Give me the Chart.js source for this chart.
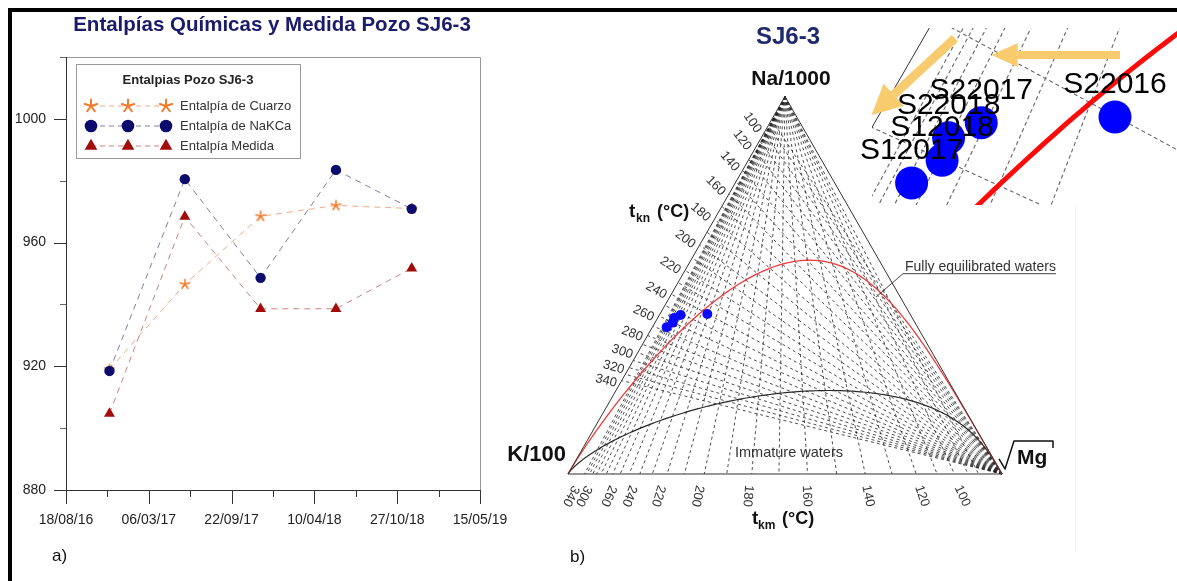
<!DOCTYPE html>
<html>
<head>
<meta charset="utf-8">
<title>Entalpías y diagrama de Giggenbach – Pozo SJ6-3</title>
<script src="https://cdn.jsdelivr.net/npm/chart.js@4.4.1/dist/chart.umd.min.js"></script>
<style>
  html, body { margin: 0; padding: 0; background: #fff; }
  #page { position: relative; width: 1177px; height: 581px; overflow: hidden; background: #fff;
          font-family: "Liberation Sans", Arial, sans-serif; }
  canvas { position: absolute; }
  #cLeft { left: 0; top: 0; }
  #cTern { left: 480px; top: 0; }
  #cZoom { left: 858px; top: 20px; }
  .frameTop { position: absolute; left: 8px; top: 8px; width: 1169px; height: 4px; background: #000; }
  .frameLeft { position: absolute; left: 8px; top: 8px; width: 4px; height: 573px; background: #000; }
  .seam { position: absolute; left: 1075px; top: 205px; width: 1px; height: 347px; background: #f2f2f2; }
  .tag { position: absolute; font-size: 17px; line-height: 22px; color: #111; }
</style>
</head>
<body>
<div id="page">
  <canvas id="cLeft" width="540" height="581"></canvas>
  <canvas id="cTern" width="697" height="581"></canvas>
  <div class="seam"></div>
  <canvas id="cZoom" width="319" height="188"></canvas>
  <div class="frameTop"></div>
  <div class="frameLeft"></div>
  <div class="tag" style="left:52px; top:545px;">a)</div>
  <div class="tag" style="left:570px; top:546px;">b)</div>
</div>

<script>
// ---------------- Panel a): enthalpies vs. sampling date ----------------
const sampleDates   = ['2016-12-01', '2017-06-01', '2017-12-01', '2018-06-01', '2018-12-01'];
const cuarzoValues  = [919.0, 946.5, 968.5, 972.0, 971.0];
const nakcaValues   = [918.5, 980.5, 948.6, 983.5, 970.9];
const medidaValues  = [904.7, 968.4, 938.6, 938.6, 951.7];
const seriesNames   = ['Entalpía de Cuarzo', 'Entalpía de NaKCa', 'Entalpía Medida'];
const dateTickLabels = ['18/08/16', '06/03/17', '22/09/17', '10/04/18', '27/10/18', '15/05/19'];
const enthalpyTicks  = [880, 900, 920, 940, 960, 980, 1000, 1020];
const enthalpyLabels = [880, 920, 960, 1000];

// ---------------- Panel b): Na-K-Mg (Giggenbach) diagram ----------------
const sampleNames = ['S22016', 'S12017', 'S22017', 'S12018', 'S22018'];
const naPct = [42.4, 38.9, 42.1, 40.1, 41.3];   // Na/1000, % of total
const kPct  = [46.7, 57.8, 53.0, 55.8, 54.9];   // K/100,  % of total
const mgPct = [10.9,  3.3,  4.9,  4.1,  3.8];   // sqrt(Mg), % of total
const tknGrid   = [80, 90, 100, 110, 120, 130, 140, 150, 160, 170, 180, 190, 200, 210, 220, 230, 240, 250, 260, 270, 280, 290, 300, 310, 320, 330, 340];
const tkmGrid   = [80, 90, 100, 110, 120, 130, 140, 150, 160, 170, 180, 190, 200, 210, 220, 230, 240, 250, 260, 270, 280, 290, 300, 310, 320, 330, 340];
const tknLabels = [100, 120, 140, 160, 180, 200, 220, 240, 260, 280, 300, 320, 340];
const tkmLabels = [100, 120, 140, 160, 180, 200, 220, 240, 260, 300, 340];
const tknGridZoom = [200, 220, 240, 260, 280, 300, 320, 340, 360, 380, 400];
const tkmGridZoom = [240, 260, 280, 300, 320, 340, 360];

const FONT = '"Liberation Sans", Arial, sans-serif';

// ---------- helpers for panel a) ----------
const dayOf = s => { const [Y, M, D] = s.split('-').map(Number); return Date.UTC(Y, M - 1, D) / 864e5; };
const dayOfDMY = s => { const [D, M, Y] = s.split('/').map(Number); return Date.UTC(2000 + Y, M - 1, D) / 864e5; };
const xTicks = dateTickLabels.map(dayOfDMY);

function drawAsterisk(g, cx, cy, r, color, lw) {
  g.save();
  g.strokeStyle = color; g.lineWidth = lw; g.lineCap = 'round';
  for (let k = 0; k < 5; k++) {
    const a = -Math.PI / 2 + k * 2 * Math.PI / 5;
    g.beginPath(); g.moveTo(cx, cy); g.lineTo(cx + r * Math.cos(a), cy + r * Math.sin(a)); g.stroke();
  }
  g.restore();
}
function asteriskImage(r, color, lw) {
  const c = document.createElement('canvas');
  const s = Math.ceil(2 * r + 4); c.width = s; c.height = s;
  drawAsterisk(c.getContext('2d'), s / 2, s / 2, r, color, lw);
  return c;
}

const COL = {
  cuarzo: '#f47a2a', cuarzoLine: 'rgba(240,160,120,0.9)',
  nakca: '#0b0b6e',  nakcaLine: 'rgba(95,95,140,0.8)',
  medida: '#a30a0a', medidaLine: 'rgba(190,110,110,0.85)'
};
const starPoint = asteriskImage(5, COL.cuarzo, 1.6);
const toXY = vals => sampleDates.map((d, i) => ({ x: dayOf(d), y: vals[i] }));

const leftDecor = {
  id: 'leftDecor',
  afterDraw(chart) {
    const { ctx, chartArea: a, scales: { x, y } } = chart;
    ctx.save();
    ctx.lineWidth = 1;
    // plot frame: light top/right, dark axes
    ctx.strokeStyle = '#9a9a9a';
    ctx.beginPath();
    ctx.moveTo(a.left, a.top + 0.5); ctx.lineTo(a.right + 0.5, a.top + 0.5); ctx.lineTo(a.right + 0.5, a.bottom);
    ctx.stroke();
    ctx.strokeStyle = '#333';
    ctx.beginPath();
    ctx.moveTo(a.left + 0.5, a.top); ctx.lineTo(a.left + 0.5, a.bottom + 0.5); ctx.lineTo(a.right + 1, a.bottom + 0.5);
    ctx.stroke();
    // y ticks (major / minor)
    enthalpyTicks.forEach(v => {
      const py = Math.round(y.getPixelForValue(v)) + 0.5;
      const major = enthalpyLabels.includes(v);
      ctx.strokeStyle = major ? '#333' : '#666';
      ctx.beginPath(); ctx.moveTo(a.left - (major ? 12 : 6), py); ctx.lineTo(a.left, py); ctx.stroke();
    });
    // x ticks (major / minor)
    ctx.strokeStyle = '#333';
    xTicks.forEach((v, i) => {
      const px = Math.round(x.getPixelForValue(v)) + 0.5;
      ctx.beginPath(); ctx.moveTo(px, a.bottom); ctx.lineTo(px, a.bottom + 14); ctx.stroke();
      if (i < xTicks.length - 1) {
        const pm = Math.round(x.getPixelForValue((v + xTicks[i + 1]) / 2)) + 0.5;
        ctx.beginPath(); ctx.moveTo(pm, a.bottom); ctx.lineTo(pm, a.bottom + 7); ctx.stroke();
      }
    });
    // title
    ctx.fillStyle = '#1b1b6b';
    ctx.font = 'bold 20.5px ' + FONT;
    ctx.textAlign = 'center'; ctx.textBaseline = 'middle';
    ctx.fillText('Entalpías Químicas y Medida Pozo SJ6-3', 272, 25);

    // legend box
    const L = { x: 76, y: 64, w: 224, h: 94 };
    ctx.fillStyle = '#fff';
    ctx.fillRect(L.x, L.y, L.w, L.h);
    ctx.strokeStyle = '#9a9a9a';
    ctx.strokeRect(L.x + 0.5, L.y + 0.5, L.w, L.h);
    ctx.fillStyle = '#222';
    ctx.font = 'bold 13px ' + FONT;
    ctx.fillText('Entalpias Pozo SJ6-3', L.x + 112, L.y + 16);
    const rows = [
      { name: seriesNames[0], line: COL.cuarzoLine, mark: (cx, cy) => drawAsterisk(ctx, cx, cy, 6.5, COL.cuarzo, 2) },
      { name: seriesNames[1], line: COL.nakcaLine,  mark: (cx, cy) => { ctx.fillStyle = COL.nakca; ctx.beginPath(); ctx.arc(cx, cy, 6.3, 0, 2 * Math.PI); ctx.fill(); } },
      { name: seriesNames[2], line: COL.medidaLine, mark: (cx, cy) => { const r = 7.3; ctx.fillStyle = COL.medida; ctx.beginPath(); ctx.moveTo(cx, cy - r); ctx.lineTo(cx + 0.866 * r, cy + 0.5 * r); ctx.lineTo(cx - 0.866 * r, cy + 0.5 * r); ctx.closePath(); ctx.fill(); } }
    ];
    rows.forEach((r, i) => {
      const cy = L.y + 42 + i * 20;
      const xs = [L.x + 15, L.x + 52, L.x + 90];
      ctx.save();
      ctx.strokeStyle = r.line; ctx.lineWidth = 1; ctx.setLineDash([5, 4]);
      ctx.beginPath(); ctx.moveTo(xs[0], cy); ctx.lineTo(xs[2], cy); ctx.stroke();
      ctx.restore();
      xs.forEach(cx => r.mark(cx, cy));
      ctx.fillStyle = '#333';
      ctx.font = '13px ' + FONT;
      ctx.textAlign = 'left'; ctx.textBaseline = 'middle';
      ctx.fillText(r.name, L.x + 104, cy);
      ctx.textAlign = 'center';
    });
    ctx.restore();
  }
};

new Chart(document.getElementById('cLeft'), {
  type: 'line',
  data: {
    datasets: [
      { label: seriesNames[1], data: toXY(nakcaValues), borderColor: COL.nakcaLine, borderWidth: 1, borderDash: [6, 5],
        pointStyle: 'circle', pointRadius: 5.2, pointBackgroundColor: COL.nakca, pointBorderColor: COL.nakca, pointBorderWidth: 0 },
      { label: seriesNames[2], data: toXY(medidaValues), borderColor: COL.medidaLine, borderWidth: 1, borderDash: [6, 5],
        pointStyle: 'triangle', pointRadius: 6.3, pointBackgroundColor: COL.medida, pointBorderColor: COL.medida, pointBorderWidth: 0 },
      { label: seriesNames[0], data: toXY(cuarzoValues), borderColor: COL.cuarzoLine, borderWidth: 1, borderDash: [6, 5],
        pointStyle: starPoint, pointRadius: 5 }
    ]
  },
  options: {
    responsive: false, animation: false, events: [],
    layout: { autoPadding: false, padding: { top: 57, right: 60, left: 0, bottom: 0 } },
    plugins: { legend: { display: false }, tooltip: { enabled: false }, title: { display: false } },
    scales: {
      x: {
        type: 'linear', min: xTicks[0], max: xTicks[xTicks.length - 1],
        afterBuildTicks: s => { s.ticks = xTicks.map(v => ({ value: v })); },
        afterFit: s => { s.height = 91; },
        grid: { display: false, drawTicks: false }, border: { display: false },
        ticks: { padding: 22, autoSkip: false, maxRotation: 0, color: '#222', font: { family: FONT, size: 14 },
                 callback: (v, i) => dateTickLabels[i] }
      },
      y: {
        type: 'linear', min: 880, max: 1020,
        afterBuildTicks: s => { s.ticks = enthalpyTicks.map(v => ({ value: v })); },
        afterFit: s => { s.width = 66; },
        grid: { display: false, drawTicks: false }, border: { display: false },
        ticks: { padding: 20, color: '#222', font: { family: FONT, size: 14 },
                 callback: v => enthalpyLabels.includes(v) ? String(v) : '' }
      }
    }
  },
  plugins: [leftDecor]
});

// ---------- Giggenbach (1988) geometry ----------
const H = 86.6025;                          // height of a 100-wide equilateral triangle
const MI_COEF = 1390 / 4410;                // weight of log(K²/Mg) in the maturity index
const FULL_MI = 14 * MI_COEF - 1.75;        // t_kn = t_km  → fully equilibrated line
const IMMATURE_MI = 2.0;                    // immature / partially equilibrated boundary
function tern(na, k, mg) { const s = na + k + mg; return { x: (100 * mg + 50 * na) / s, y: H * na / s }; }
const V_NA = tern(1, 0, 0), V_K = tern(0, 1, 0), V_MG = tern(0, 0, 1);
function tknEdge(T) { const r = Math.pow(10, 1390 / (T + 273.15) - 1.75); return tern(r / 1000, 1 / 100, 0); }
function tkmBase(T) { const c = Math.pow(10, 14 - 4410 / (T + 273.15)); return tern(0, 1 / 100, 1 / Math.sqrt(c)); }
function maturityCurve(mi) {
  const pts = [];
  for (let i = 0; i <= 1000; i++) {
    const l1 = -3 + i * 0.01;
    const l2 = (mi - l1) / MI_COEF;
    pts.push(tern(Math.pow(10, l1) / 1000, 0.01, Math.pow(10, -l2 / 2)));
  }
  return pts;
}
const samplePoints = sampleNames.map((n, i) => tern(naPct[i], kPct[i], mgPct[i]));

function mapper(chart) {
  const X = chart.scales.x, Y = chart.scales.y;
  return p => [X.getPixelForValue(p.x), Y.getPixelForValue(p.y)];
}
function seg(ctx, a, b) { ctx.beginPath(); ctx.moveTo(a[0], a[1]); ctx.lineTo(b[0], b[1]); ctx.stroke(); }
function poly(ctx, pts, color, w) {
  ctx.strokeStyle = color; ctx.lineWidth = w; ctx.lineJoin = 'round';
  ctx.beginPath(); pts.forEach((p, i) => i ? ctx.lineTo(p[0], p[1]) : ctx.moveTo(p[0], p[1])); ctx.stroke();
}
function unit(a, b) { const dx = b[0] - a[0], dy = b[1] - a[1], l = Math.hypot(dx, dy); return [dx / l, dy / l]; }
function rotatedText(ctx, txt, x, y, ang) {
  ctx.save(); ctx.translate(x, y); ctx.rotate(ang); ctx.fillText(txt, 0, 0); ctx.restore();
}

const TERN_LEFT = 480;   // page x of the diagram canvas
const giggenbachMain = {
  id: 'giggenbachMain',
  beforeDatasetsDraw(chart) {
    const { ctx } = chart;
    const P = mapper(chart);
    const cx = x => x - TERN_LEFT;
    const pNa = P(V_NA), pK = P(V_K), pMg = P(V_MG);
    ctx.save();
    // temperature grid
    ctx.setLineDash([3, 3]); ctx.strokeStyle = '#222'; ctx.lineWidth = 0.8;
    tknGrid.forEach(T => seg(ctx, pMg, P(tknEdge(T))));
    tkmGrid.forEach(T => seg(ctx, pNa, P(tkmBase(T))));
    ctx.setLineDash([]);
    // maturity curves
    poly(ctx, maturityCurve(IMMATURE_MI).map(P), '#2b2b2b', 1.2);
    poly(ctx, maturityCurve(FULL_MI).map(P), '#ee3b3b', 1.3);
    // triangle
    ctx.strokeStyle = '#333'; ctx.lineWidth = 1;
    ctx.beginPath(); ctx.moveTo(pNa[0], pNa[1]); ctx.lineTo(pK[0], pK[1]); ctx.lineTo(pMg[0], pMg[1]); ctx.closePath(); ctx.stroke();

    // temperature labels
    ctx.fillStyle = '#333'; ctx.font = '13px ' + FONT; ctx.textAlign = 'center'; ctx.textBaseline = 'middle';
    tknLabels.forEach(T => {
      const e = P(tknEdge(T)); const d = unit(e, pMg);
      const lx = e[0] - d[0] * 15 - d[1] * 4, ly = e[1] - d[1] * 15 + d[0] * 4;
      rotatedText(ctx, String(T), lx, ly, Math.atan2(d[1], d[0]));
    });
    tkmLabels.forEach(T => {
      const b = P(tkmBase(T)); const d = unit(pNa, b);
      const L = 22 / d[1];
      rotatedText(ctx, String(T), b[0] + d[0] * L - 2, b[1] + 22, Math.atan2(d[1], d[0]));
    });

    // axis captions
    ctx.fillStyle = '#111'; ctx.textBaseline = 'alphabetic'; ctx.textAlign = 'left';
    ctx.font = 'bold 19px ' + FONT; ctx.fillText('t', cx(629), 217);
    ctx.font = 'bold 12px ' + FONT; ctx.fillText('kn', cx(636), 222);
    ctx.font = 'bold 18px ' + FONT; ctx.fillText('(°C)', cx(657), 217);
    ctx.font = 'bold 19px ' + FONT; ctx.fillText('t', cx(752), 524);
    ctx.font = 'bold 12px ' + FONT; ctx.fillText('km', cx(758), 529);
    ctx.font = 'bold 18px ' + FONT; ctx.fillText('(°C)', cx(782), 524);

    // vertex labels
    ctx.textAlign = 'center'; ctx.textBaseline = 'middle';
    ctx.fillStyle = '#1f2a6e'; ctx.font = 'bold 24px ' + FONT;
    ctx.fillText('SJ6-3', pNa[0] + 3, 37);
    ctx.fillStyle = '#111'; ctx.font = 'bold 21px ' + FONT;
    ctx.fillText('Na/1000', pNa[0] + 6, pNa[1] - 17);
    ctx.textAlign = 'right';
    ctx.font = 'bold 22px ' + FONT;
    ctx.fillText('K/100', pK[0] - 2, pK[1] - 19);
    ctx.textAlign = 'left';
    ctx.font = 'bold 21px ' + FONT;
    ctx.fillText('Mg', pMg[0] + 15, pMg[1] - 16);
    ctx.strokeStyle = '#111'; ctx.lineWidth = 1.5;
    ctx.beginPath();
    ctx.moveTo(pMg[0] - 3, pMg[1] - 15); ctx.lineTo(pMg[0] + 3, pMg[1] - 5); ctx.lineTo(pMg[0] + 12, pMg[1] - 33);
    ctx.lineTo(pMg[0] + 51, pMg[1] - 33); ctx.lineTo(pMg[0] + 51, pMg[1] - 26);
    ctx.stroke();

    // region captions
    ctx.fillStyle = '#333'; ctx.font = '14px ' + FONT; ctx.textAlign = 'left'; ctx.textBaseline = 'middle';
    const fe = P({ x: 77.65, y: 47.56 }), feEnd = P({ x: 70.97, y: 40.6 });
    ctx.fillText('Fully equilibrated waters', fe[0], fe[1]);
    const fw = ctx.measureText('Fully equilibrated waters').width;
    ctx.strokeStyle = '#444'; ctx.lineWidth = 1;
    ctx.beginPath(); ctx.moveTo(fe[0] + fw, fe[1] + 7); ctx.lineTo(fe[0] - 2, fe[1] + 7); ctx.lineTo(feEnd[0], feEnd[1]); ctx.stroke();
    ctx.textAlign = 'center';
    const im = P({ x: 50.92, y: 4.89 });
    ctx.font = '14.5px ' + FONT;
    ctx.fillText('Immature waters', im[0], im[1]);
    ctx.restore();
  }
};

new Chart(document.getElementById('cTern'), {
  type: 'scatter',
  data: { datasets: [{ data: samplePoints, pointRadius: 5, pointBackgroundColor: '#0a0aff', pointBorderWidth: 0 }] },
  options: {
    responsive: false, animation: false, events: [],
    layout: { autoPadding: false, padding: 0 },
    plugins: { legend: { display: false }, tooltip: { enabled: false } },
    scales: {
      x: { type: 'linear', display: false, min: -20.276, max: 140.323 },
      y: { type: 'linear', display: false, min: -24.55, max: 108.74 }
    }
  },
  plugins: [giggenbachMain]
});

// ---------- enlarged view around the samples ----------
const trendArrows = [
  [{ x: 32.33, y: 39.57 }, { x: 26.43, y: 39.57 }],
  [{ x: 24.74, y: 40.34 }, { x: 20.91, y: 36.81 }]
];
function drawArrow(ctx, a, b, shaft, headLen, headHalf, color) {
  const d = unit(a, b), n = [-d[1], d[0]];
  const base = [b[0] - d[0] * headLen, b[1] - d[1] * headLen];
  ctx.strokeStyle = color; ctx.fillStyle = color; ctx.lineWidth = shaft; ctx.lineCap = 'butt';
  ctx.beginPath(); ctx.moveTo(a[0], a[1]); ctx.lineTo(base[0], base[1]); ctx.stroke();
  ctx.beginPath();
  ctx.moveTo(b[0], b[1]);
  ctx.lineTo(base[0] + n[0] * headHalf, base[1] + n[1] * headHalf);
  ctx.lineTo(base[0] - n[0] * headHalf, base[1] - n[1] * headHalf);
  ctx.closePath(); ctx.fill();
}

const giggenbachZoom = {
  id: 'giggenbachZoom',
  beforeDatasetsDraw(chart) {
    const { ctx, chartArea: a } = chart;
    const P = mapper(chart);
    ctx.save();
    ctx.beginPath(); ctx.rect(14, 8, a.right - 14, 177); ctx.clip();
    ctx.setLineDash([4, 3]); ctx.strokeStyle = '#666'; ctx.lineWidth = 1.1;
    tknGridZoom.forEach(T => seg(ctx, P(V_MG), P(tknEdge(T))));
    tkmGridZoom.forEach(T => seg(ctx, P(V_NA), P(tkmBase(T))));
    ctx.setLineDash([]);
    ctx.strokeStyle = '#333'; ctx.lineWidth = 1;
    seg(ctx, P(V_K), P(V_NA));
    poly(ctx, maturityCurve(FULL_MI).map(P), '#ff0a0a', 5);
    ctx.restore();
  },
  afterDatasetsDraw(chart) {
    const { ctx } = chart;
    const P = mapper(chart);
    ctx.save();
    drawArrow(ctx, P(trendArrows[0][0]), P(trendArrows[0][1]), 8, 26, 12, '#f8cb6e');
    drawArrow(ctx, P(trendArrows[1][0]), P(trendArrows[1][1]), 9, 30, 15, '#f8cb6e');
    ctx.fillStyle = '#000'; ctx.font = '30px ' + FONT; ctx.textAlign = 'center'; ctx.textBaseline = 'alphabetic';
    samplePoints.forEach((p, i) => { const q = P(p); ctx.fillText(sampleNames[i], q[0], q[1] - 24); });
    ctx.restore();
  }
};

new Chart(document.getElementById('cZoom'), {
  type: 'scatter',
  data: { datasets: [{ data: samplePoints, pointRadius: 16.5, pointBackgroundColor: '#0000ff', pointBorderWidth: 0 }] },
  options: {
    responsive: false, animation: false, events: [],
    layout: { autoPadding: false, padding: 0 },
    plugins: { legend: { display: false }, tooltip: { enabled: false } },
    scales: {
      x: { type: 'linear', display: false, min: 20.284, max: 34.951 },
      y: { type: 'linear', display: false, min: 32.536, max: 41.18 }
    }
  },
  plugins: [giggenbachZoom]
});
</script>
</body>
</html>
